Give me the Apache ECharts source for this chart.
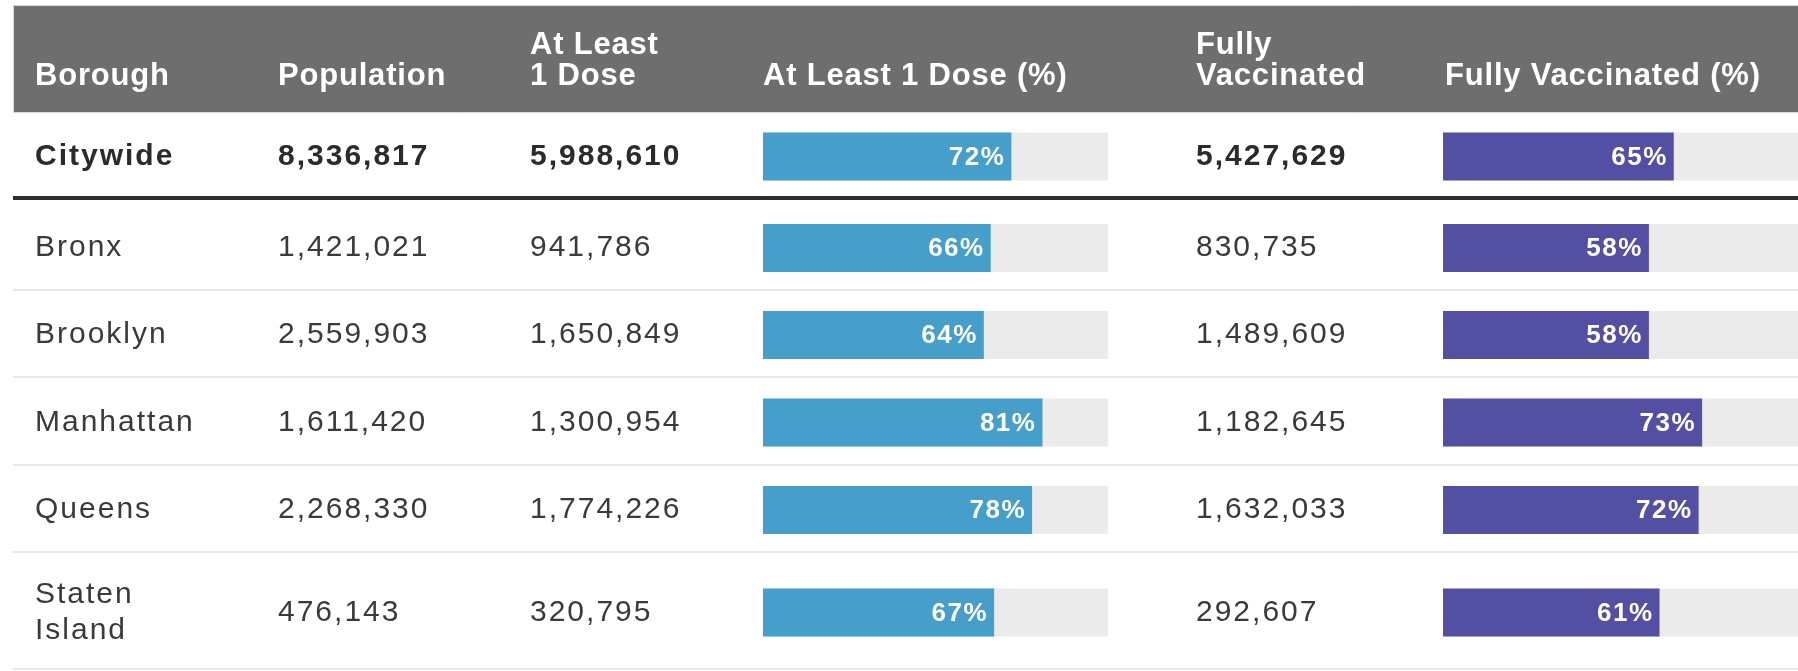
<!DOCTYPE html>
<html><head><meta charset="utf-8">
<script src="https://cdn.jsdelivr.net/npm/echarts@6/dist/echarts.min.js"></script>
<style>html,body{margin:0;padding:0;background:#fff;overflow:hidden}#c{width:1798px;height:671px}</style>
</head><body><div id="c"></div>
<script>
// ---- data ----
const boroughs = ['Citywide', 'Bronx', 'Brooklyn', 'Manhattan', 'Queens', 'Staten\nIsland'];
const population = [8336817, 1421021, 2559903, 1611420, 2268330, 476143];
const atLeastOneDose = [5988610, 941786, 1650849, 1300954, 1774226, 320795];
const atLeastOneDosePct = [72, 66, 64, 81, 78, 67];
const fullyVaccinated = [5427629, 830735, 1489609, 1182645, 1632033, 292607];
const fullyVaccinatedPct = [65, 58, 58, 73, 72, 61];
const headers = ['Borough', 'Population', 'At Least\n1 Dose', 'At Least 1 Dose (%)', 'Fully\nVaccinated', 'Fully Vaccinated (%)'];

// ---- layout / style ----
const FONT = '"Liberation Sans", Arial, Helvetica, sans-serif';
const BODY_SIZE = 30, HEAD_SIZE = 31, LABEL_SIZE = 26;
const LETTER_SPACING = { 30: 2, 31: 0.8, 26: 1.5 };
const rowHeights = [86, 92, 87, 88, 87, 118];
const rowStarts = []; let acc = 0;
rowHeights.forEach(h => { rowStarts.push(acc); acc += h; });
const totalH = acc;
const tableTop = 112;
const colX = [35, 278, 530, 763, 1196, 1445];
const THICK_RULE_ROW = 1; // the row under the heavy rule sits a little lower
const rowCenter = i => rowStarts[i] + rowHeights[i] / 2 + 1.5 + (i === THICK_RULE_ROW ? 2.5 : 0);
const fmt = v => v.toLocaleString('en-US');

// small letter spacing, like the hinted text of the original
(function () {
  const P = CanvasRenderingContext2D.prototype;
  if (!('letterSpacing' in P)) return;
  const orig = P.fillText;
  P.fillText = function (t, x, y, mw) {
    const m = /(\d+(?:\.\d+)?)px/.exec(this.font);
    const ls = m ? (LETTER_SPACING[+m[1]] || 0) : 0;
    const prev = this.letterSpacing;
    this.letterSpacing = ls + 'px';
    const r = mw === undefined ? orig.call(this, t, x, y) : orig.call(this, t, x, y, mw);
    this.letterSpacing = prev;
    return r;
  };
})();

const chart = echarts.init(document.getElementById('c'), null, { renderer: 'canvas' });

function yAxisCfg(gi) {
  return { gridIndex: gi, type: 'value', min: 0, max: totalH, inverse: true, show: false };
}
function xAxisCfg(gi, max) {
  return { gridIndex: gi, type: 'value', min: 0, max: max, show: false };
}

function barSeries(gi, values, color) {
  return {
    type: 'custom', xAxisIndex: gi, yAxisIndex: gi, silent: true,
    data: values.map((v, i) => [v, i]),
    renderItem(params, api) {
      const v = api.value(0), i = api.value(1);
      const yc = rowCenter(i);
      const p0 = api.coord([0, yc]);
      const p1 = api.coord([v, yc]);
      const pT = api.coord([100, yc]);
      const h = 48;
      return { type: 'group', children: [
        { type: 'rect', shape: { x: p0[0], y: p0[1] - h / 2, width: pT[0] - p0[0], height: h }, style: { fill: '#ebebeb' } },
        { type: 'rect', shape: { x: p0[0], y: p0[1] - h / 2, width: p1[0] - p0[0], height: h }, style: { fill: color } },
        { type: 'text', style: { x: p1[0] - 6, y: p1[1] + 1, text: v + '%', fill: '#ffffff', fontFamily: FONT, fontWeight: 'bold', fontSize: LABEL_SIZE, align: 'right', verticalAlign: 'middle' } }
      ] };
    }
  };
}

const textSeries = {
  type: 'custom', xAxisIndex: 2, yAxisIndex: 2, silent: true,
  data: boroughs.map((b, i) => [0, i]),
  renderItem(params, api) {
    const i = api.value(1);
    const yc = api.coord([0, rowCenter(i)])[1];
    const bold = i === 0;
    const base = { fill: bold ? '#2b2b2b' : '#3a3a3a', fontFamily: FONT, fontWeight: bold ? 'bold' : 'normal', fontSize: BODY_SIZE, align: 'left', verticalAlign: 'middle', lineHeight: 36 };
    const vals = [boroughs[i], fmt(population[i]), fmt(atLeastOneDose[i]), null, fmt(fullyVaccinated[i])];
    const children = [];
    vals.forEach((t, c) => {
      if (t === null) return;
      children.push({ type: 'text', style: Object.assign({}, base, { x: colX[c], y: yc, text: t }) });
    });
    const xL = api.coord([13, 0])[0], xR = api.coord([1798, 0])[0];
    if (i >= 1) {
      const yTop = api.coord([0, rowStarts[i]])[1];
      if (i === THICK_RULE_ROW) {
        children.push({ type: 'line', shape: { x1: xL, y1: yTop, x2: xR, y2: yTop }, style: { stroke: '#2e2e2e', lineWidth: 4 } });
      } else {
        children.push({ type: 'line', shape: { x1: xL, y1: yTop, x2: xR, y2: yTop }, style: { stroke: '#e8e8e8', lineWidth: 2 } });
      }
    }
    if (i === boroughs.length - 1) {
      const yB = api.coord([0, totalH])[1] - 1;
      children.push({ type: 'line', shape: { x1: xL, y1: yB, x2: xR, y2: yB }, style: { stroke: '#e8e8e8', lineWidth: 2 } });
    }
    return { type: 'group', children };
  }
};

const headerGraphics = [
  { type: 'rect', left: 13, top: 5, shape: { width: 1785, height: 107 }, style: { fill: '#6e6e6e', stroke: '#d9d9d9', lineWidth: 1 }, silent: true }
].concat(headers.map((h, c) => ({
  type: 'text', silent: true,
  style: { x: colX[c], y: 92, text: h, fill: '#ffffff', fontFamily: FONT, fontWeight: 'bold', fontSize: HEAD_SIZE, lineHeight: 31, align: 'left', verticalAlign: 'bottom' }
})));

chart.setOption({
  animation: false,
  backgroundColor: '#ffffff',
  grid: [
    { left: colX[3], top: tableTop, width: 345, height: totalH },
    { left: colX[5] - 2, top: tableTop, width: 357, height: totalH },
    { left: 0, top: tableTop, width: 1798, height: totalH }
  ],
  xAxis: [xAxisCfg(0, 100), xAxisCfg(1, 100), xAxisCfg(2, 1798)],
  yAxis: [yAxisCfg(0), yAxisCfg(1), yAxisCfg(2)],
  series: [
    textSeries,
    barSeries(0, atLeastOneDosePct, '#469eca'),
    barSeries(1, fullyVaccinatedPct, '#5350a3')
  ],
  graphic: headerGraphics
});
</script>
</body></html>
